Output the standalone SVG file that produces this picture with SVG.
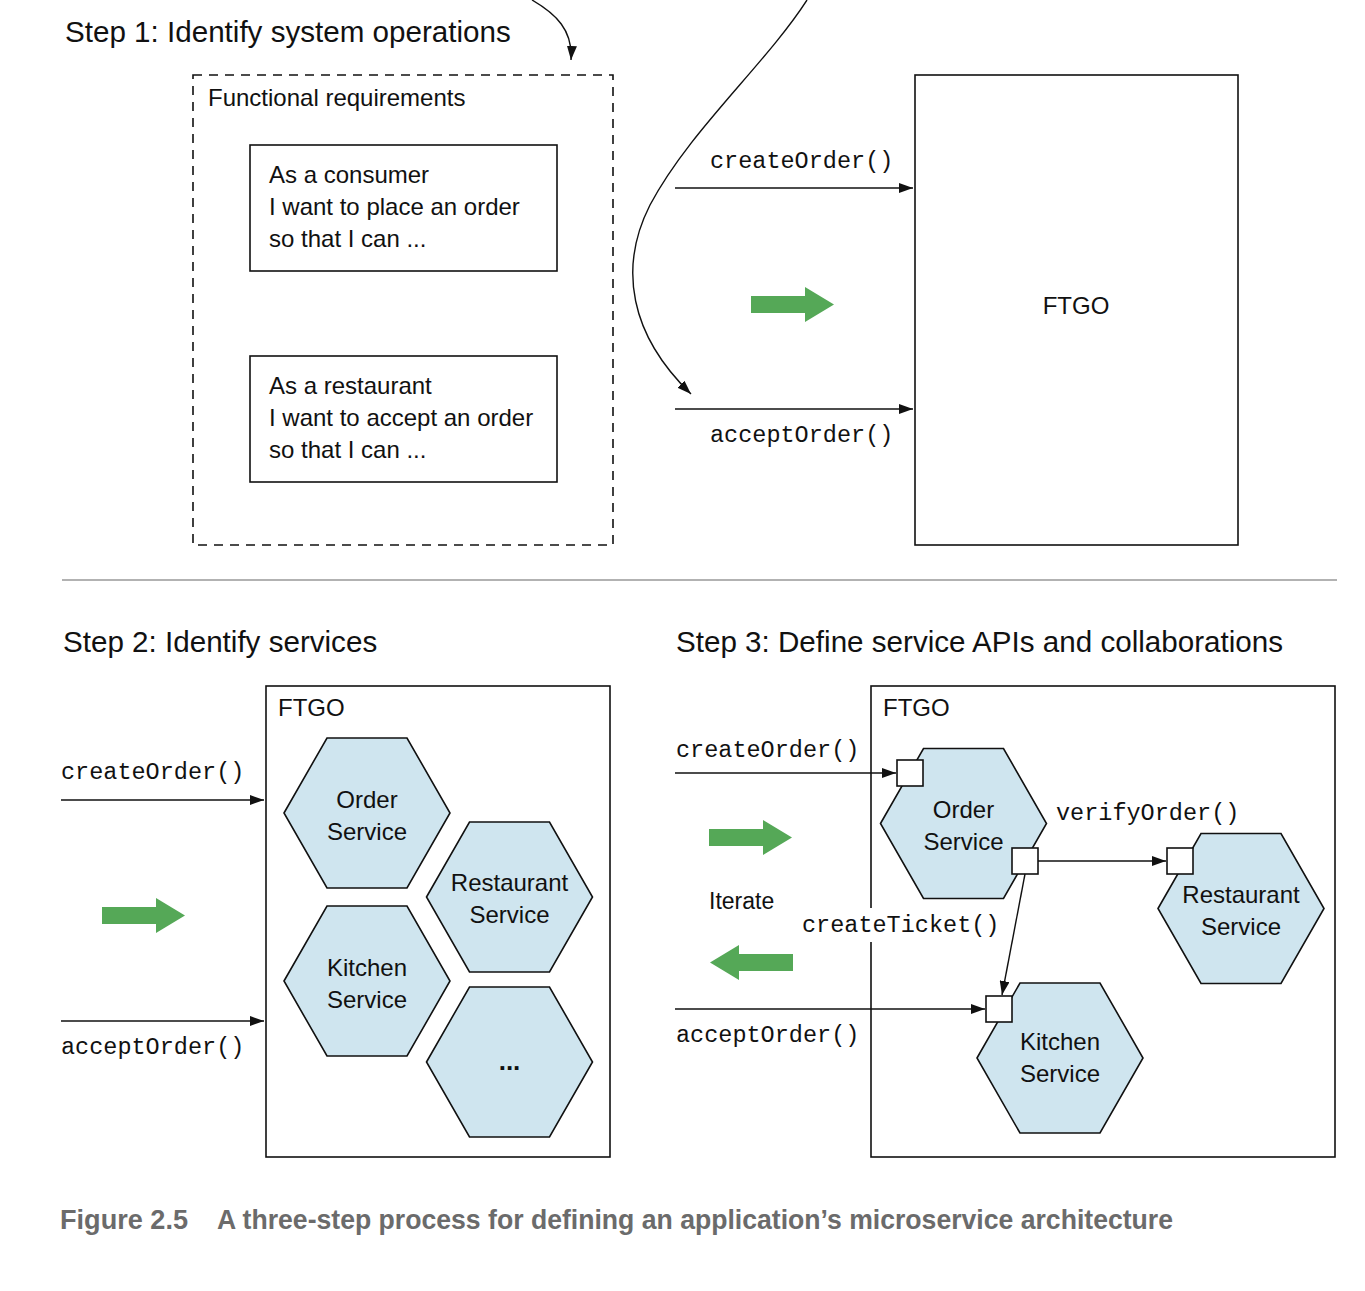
<svg xmlns="http://www.w3.org/2000/svg" width="1365" height="1291" viewBox="0 0 1365 1291">
<style>
.sans{font-family:"Liberation Sans",Arial,sans-serif;fill:#111}
.title{font-size:29.6px}
.lbl{font-size:24px}
.mono{font-family:"Liberation Mono","Courier New",monospace;font-size:23.5px;fill:#111}
.box{fill:#fff;stroke:#111;stroke-width:1.6}
.hex{fill:#cfe5ef;stroke:#111;stroke-width:1.6}
.port{fill:#fff;stroke:#111;stroke-width:1.6}
.conn{fill:none;stroke:#111;stroke-width:1.4}
.green{fill:#55a857}
.cap{font-family:"Liberation Sans",Arial,sans-serif;font-weight:bold;font-size:28px;fill:#6b6b6b}
</style>
<defs>
<marker id="ah" viewBox="0 0 14 10" refX="14" refY="5" markerWidth="14" markerHeight="10" markerUnits="userSpaceOnUse" orient="auto">
<path d="M0,0 L14,5 L0,10 Z" fill="#111"/>
</marker>
<polygon id="hexshape" points="-83,0 -40,-75 40,-75 83,0 40,75 -40,75"/>
</defs>
<rect width="1365" height="1291" fill="#fff"/>

<!-- Titles -->
<text class="sans title" x="65" y="42">Step 1: Identify system operations</text>
<text class="sans title" x="63" y="652">Step 2: Identify services</text>
<text class="sans title" x="676" y="652">Step 3: Define service APIs and collaborations</text>
<line x1="62" y1="580" x2="1337" y2="580" stroke="#999" stroke-width="1.6"/>

<!-- Step 1 -->
<g id="functional-requirements">
<rect x="193" y="75" width="420" height="470" fill="none" stroke="#111" stroke-width="1.6" stroke-dasharray="9,7"/>
<text class="sans lbl" x="208" y="106">Functional requirements</text>
</g>
<g id="story-consumer">
<rect class="box" x="250" y="145" width="307" height="126"/>
<text class="sans lbl" x="269" y="183">As a consumer</text>
<text class="sans lbl" x="269" y="215">I want to place an order</text>
<text class="sans lbl" x="269" y="247">so that I can ...</text>
</g>
<g id="story-restaurant">
<rect class="box" x="250" y="356" width="307" height="126"/>
<text class="sans lbl" x="269" y="394">As a restaurant</text>
<text class="sans lbl" x="269" y="426">I want to accept an order</text>
<text class="sans lbl" x="269" y="458">so that I can ...</text>
</g>
<g id="ftgo-1">
<rect class="box" x="915" y="75" width="323" height="470"/>
<text class="sans lbl" x="1076" y="314" text-anchor="middle">FTGO</text>
</g>

<!-- Step 2 -->
<g id="ftgo-2">
<rect class="box" x="266" y="686" width="344" height="471"/>
<text class="sans lbl" x="278" y="716">FTGO</text>
</g>
<g id="s2-order">
<use href="#hexshape" class="hex" x="367" y="813"/>
<text class="sans lbl" x="367" y="808" text-anchor="middle">Order</text>
<text class="sans lbl" x="367" y="840" text-anchor="middle">Service</text>
</g>
<g id="s2-restaurant">
<use href="#hexshape" class="hex" x="509.5" y="897"/>
<text class="sans lbl" x="509.5" y="891" text-anchor="middle">Restaurant</text>
<text class="sans lbl" x="509.5" y="923" text-anchor="middle">Service</text>
</g>
<g id="s2-kitchen">
<use href="#hexshape" class="hex" x="367" y="981"/>
<text class="sans lbl" x="367" y="976" text-anchor="middle">Kitchen</text>
<text class="sans lbl" x="367" y="1008" text-anchor="middle">Service</text>
</g>
<g id="s2-more">
<use href="#hexshape" class="hex" x="509.5" y="1062"/>
<text class="sans" x="509.5" y="1070" text-anchor="middle" font-size="26" font-weight="bold">...</text>
</g>

<!-- Step 3 -->
<g id="ftgo-3">
<rect class="box" x="871" y="686" width="464" height="471"/>
<text class="sans lbl" x="883" y="716">FTGO</text>
</g>
<g id="s3-order">
<use href="#hexshape" class="hex" x="963.5" y="823.5"/>
<text class="sans lbl" x="963.5" y="818" text-anchor="middle">Order</text>
<text class="sans lbl" x="963.5" y="850" text-anchor="middle">Service</text>
<rect class="port" x="897" y="760" width="26" height="26"/>
<rect class="port" x="1012" y="848" width="26" height="26"/>
</g>
<g id="s3-restaurant">
<use href="#hexshape" class="hex" x="1241" y="908.5"/>
<text class="sans lbl" x="1241" y="903" text-anchor="middle">Restaurant</text>
<text class="sans lbl" x="1241" y="935" text-anchor="middle">Service</text>
<rect class="port" x="1167" y="848" width="26" height="26"/>
</g>
<g id="s3-kitchen">
<use href="#hexshape" class="hex" x="1060" y="1058"/>
<text class="sans lbl" x="1060" y="1050" text-anchor="middle">Kitchen</text>
<text class="sans lbl" x="1060" y="1082" text-anchor="middle">Service</text>
<rect class="port" x="986" y="996" width="26" height="26"/>
</g>

<!-- Connectors -->
<g id="connectors">
<path class="conn" d="M532,0 C556,14 573,30 571,60" marker-end="url(#ah)"/>
<path class="conn" d="M807,0 C765,65 690,130 650,205 C618,268 630,335 691,394" marker-end="url(#ah)"/>
<line class="conn" x1="675" y1="188" x2="913" y2="188" marker-end="url(#ah)"/>
<line class="conn" x1="675" y1="409" x2="913" y2="409" marker-end="url(#ah)"/>
<line class="conn" x1="61" y1="800" x2="264" y2="800" marker-end="url(#ah)"/>
<line class="conn" x1="61" y1="1021" x2="264" y2="1021" marker-end="url(#ah)"/>
<line class="conn" x1="675" y1="773" x2="896" y2="773" marker-end="url(#ah)"/>
<line class="conn" x1="675" y1="1009" x2="985" y2="1009" marker-end="url(#ah)"/>
<line class="conn" x1="1038" y1="861" x2="1166" y2="861" marker-end="url(#ah)"/>
<line class="conn" x1="1025" y1="874" x2="1002" y2="995" marker-end="url(#ah)"/>
</g>

<!-- Connector labels -->
<text class="mono" x="710" y="168">createOrder()</text>
<text class="mono" x="710" y="442">acceptOrder()</text>
<text class="mono" x="61" y="779">createOrder()</text>
<text class="mono" x="61" y="1054">acceptOrder()</text>
<text class="mono" x="676" y="757">createOrder()</text>
<text class="mono" x="676" y="1042">acceptOrder()</text>
<text class="mono" x="1056" y="820">verifyOrder()</text>
<rect x="800" y="908" width="202" height="34" fill="#fff"/>
<text class="mono" x="802" y="932">createTicket()</text>
<text class="sans" x="709" y="909" font-size="23">Iterate</text>

<!-- Green process arrows -->
<polygon class="green" points="751,296 805,296 805,287 834,304.5 805,322 805,313 751,313"/>
<polygon class="green" points="102,907 156,907 156,898 185,915.5 156,933 156,924 102,924"/>
<polygon class="green" points="709,829 763,829 763,820 792,837.5 763,855 763,846 709,846"/>
<polygon class="green" points="793,954 739,954 739,945 710,962.5 739,980 739,971 793,971"/>

<!-- Caption -->
<text class="cap" x="60" y="1229" textLength="128" lengthAdjust="spacingAndGlyphs">Figure 2.5</text>
<text class="cap" x="217" y="1229" textLength="956" lengthAdjust="spacingAndGlyphs">A three-step process for defining an application’s microservice architecture</text>
</svg>
